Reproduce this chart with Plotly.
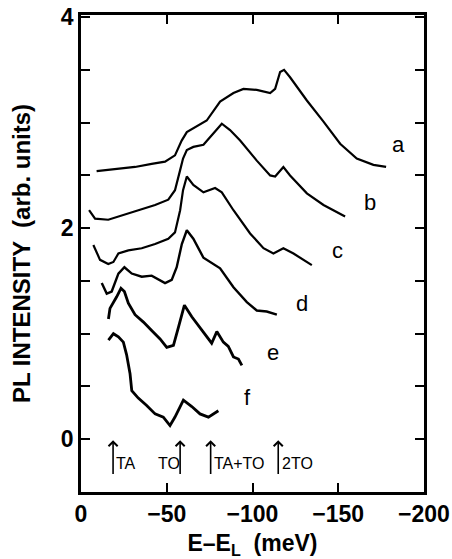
import plotly.graph_objects as go

# ---- data ----
a_x = [-9.1, -19.8, -31.5, -41.2, -49, -54.8, -58.7, -61.7, -69.4, -73.3, -81.1, -88.9, -94.7, -102.5, -110.3, -113.2, -116.1, -118.4, -121.9, -131.7, -141.4, -151.1, -160.8, -170.5, -177.9]
a_y = [2.54, 2.56, 2.58, 2.61, 2.63, 2.69, 2.83, 2.91, 2.98, 3.02, 3.20, 3.28, 3.32, 3.31, 3.28, 3.32, 3.48, 3.50, 3.43, 3.21, 3.01, 2.80, 2.66, 2.60, 2.58]

b_x = [-4.7, -8.2, -15.9, -23.7, -33.4, -43.2, -50.9, -54.8, -57.8, -59.5, -61.7, -65.5, -71.4, -77.2, -82.1, -86.9, -92.8, -102.5, -110.3, -113.2, -118, -121.9, -131.7, -141.4, -154]
b_y = [2.17, 2.09, 2.08, 2.12, 2.17, 2.22, 2.27, 2.36, 2.55, 2.66, 2.74, 2.77, 2.79, 2.90, 2.99, 2.93, 2.83, 2.64, 2.50, 2.49, 2.58, 2.50, 2.33, 2.22, 2.11]

c_x = [-7.2, -11.1, -15.9, -18.9, -21.8, -27.6, -35.4, -43.2, -50.9, -54.8, -57.8, -59.5, -61.7, -65.5, -71.4, -78.2, -82.1, -88.9, -98.6, -106.4, -112.2, -118, -123.9, -134.6]
c_y = [1.84, 1.70, 1.66, 1.68, 1.76, 1.79, 1.81, 1.85, 1.90, 1.96, 2.17, 2.36, 2.49, 2.41, 2.34, 2.38, 2.34, 2.17, 1.95, 1.81, 1.76, 1.81, 1.76, 1.65]

d_x = [-12.1, -15, -17.9, -21.8, -25.3, -29.6, -35.4, -41.2, -49, -52.9, -55.8, -58.8, -61.7, -65.5, -71.4, -76, -81.1, -88.9, -96.7, -102.5, -108.3, -114.2]
d_y = [1.48, 1.38, 1.40, 1.57, 1.63, 1.57, 1.54, 1.55, 1.48, 1.51, 1.63, 1.85, 1.98, 1.90, 1.72, 1.67, 1.62, 1.44, 1.30, 1.22, 1.21, 1.18]

e_x = [-16, -16.9, -20.8, -23.3, -25.3, -27.6, -31.5, -36.4, -41.2, -46.1, -50, -53.9, -56.8, -60.3, -64.6, -67.5, -73.3, -76.2, -79.2, -83, -85.9, -88.9, -91.8, -93.8]
e_y = [1.14, 1.24, 1.35, 1.43, 1.40, 1.29, 1.18, 1.11, 1.03, 0.95, 0.87, 0.89, 1.06, 1.27, 1.16, 1.10, 0.97, 0.91, 1.02, 0.92, 0.88, 0.78, 0.76, 0.70]

f_x = [-16, -18.9, -21.8, -24.7, -26.6, -28.6, -29.6, -33.4, -38.3, -43.2, -48, -51.9, -54.8, -59.7, -64.6, -69.4, -74.3, -77.2, -80.1]
f_y = [0.94, 1.00, 0.97, 0.92, 0.80, 0.62, 0.46, 0.39, 0.32, 0.24, 0.21, 0.13, 0.21, 0.37, 0.31, 0.24, 0.21, 0.24, 0.27]

curve_labels = ["a", "b", "c", "d", "e", "f"]
label_x = [-184.9, -168.6, -149.6, -128.9, -112.0, -96.8]
label_y = [2.79, 2.24, 1.79, 1.29, 0.82, 0.40]

arrow_names = ["TA", "TO", "TA+TO", "2TO"]
arrow_x = [-18.7, -57.8, -75.6, -115.0]

x_ticks = [0, -50, -100, -150, -200]
x_ticktext = ["0", "\u221250", "\u2212100", "\u2212150", "\u2212200"]
y_ticks = [0, 0.5, 1, 1.5, 2, 2.5, 3, 3.5, 4]
y_ticktext = ["0", "", "", "", "2", "", "", "", "4"]

# ---- figure ----
fig = go.Figure()
for xs, ys, w in [(a_x, a_y, 2.2), (b_x, b_y, 2.2), (c_x, c_y, 2.2), (d_x, d_y, 2.4), (e_x, e_y, 2.8), (f_x, f_y, 2.8)]:
    fig.add_trace(go.Scatter(x=xs, y=ys, mode="lines",
                             line=dict(color="black", width=w),
                             showlegend=False, hoverinfo="skip"))

for t, lx, ly in zip(curve_labels, label_x, label_y):
    fig.add_annotation(x=lx, y=ly, text=t, showarrow=False,
                       font=dict(family="Liberation Sans", size=22, color="black"))

for name, axx in zip(arrow_names, arrow_x):
    fig.add_annotation(x=axx, y=-0.01, ax=axx, ay=-0.41, xref="x", yref="y",
                       axref="x", ayref="y", text=" ", showarrow=True,
                       arrowhead=4, arrowsize=1.1, arrowwidth=1.6, arrowcolor="black")
    anchor = "right" if name == "TO" else "left"
    fig.add_annotation(x=axx - 0.8, y=-0.23, text=name, showarrow=False, xanchor=anchor,
                       font=dict(family="Liberation Sans", size=16, color="black"))

axis_common = dict(showgrid=False, zeroline=False, showline=True, linecolor="black",
                   linewidth=2.5, mirror="ticks", ticks="inside", ticklen=9,
                   tickwidth=2, tickcolor="black", automargin=False,
                   tickfont=dict(family="Liberation Sans", size=23, color="black", weight="bold"))

fig.update_xaxes(range=[0, -200], tickmode="array", tickvals=x_ticks, ticktext=x_ticktext,
                 title=dict(text="E\u2013E<sub>L</sub>  (meV)", standoff=16,
                            font=dict(family="Liberation Sans", size=23, color="black", weight="bold")),
                 **axis_common)
fig.update_yaxes(range=[-0.5, 4.02], tickmode="array", tickvals=y_ticks, ticktext=y_ticktext,
                 title=dict(text="PL INTENSITY  (arb. units)", standoff=24,
                            font=dict(family="Liberation Sans", size=24, color="black", weight="bold")),
                 **axis_common)

fig.update_layout(width=452, height=559, margin=dict(l=81, r=28, t=15, b=67, autoexpand=False),
                  plot_bgcolor="white", paper_bgcolor="white",
                  font=dict(family="Liberation Sans", color="black"))

fig.write_html("out.html")
